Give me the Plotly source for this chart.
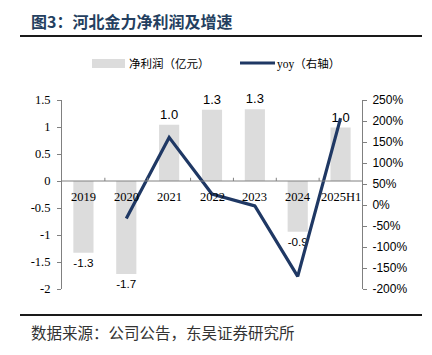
import plotly.graph_objects as go

categories = ["2019", "2020", "2021", "2022", "2023", "2024", "2025H1"]
net_profit = [-1.33, -1.72, 1.04, 1.32, 1.33, -0.94, 0.99]
profit_labels = ["-1.3", "-1.7", "1.0", "1.3", "1.3", "-0.9", "1.0"]
yoy_cats = ["2020", "2021", "2022", "2023", "2024", "2025H1"]
yoy = [-32, 161, 26, -2, -170, 207]
left_ticks = [-2, -1.5, -1, -0.5, 0, 0.5, 1, 1.5]
left_tick_text = ["-2", "-1.5", "-1", "-0.5", "0", "0.5", "1", "1.5"]
right_ticks = [-200, -150, -100, -50, 0, 50, 100, 150, 200, 250]
right_tick_text = [f"{v}%" for v in right_ticks]

W, H = 432, 355
L, R, T, B = 62, 362, 100, 289
BAR = "#DCDCDC"
LINE = "#1F3864"
SERIF = "Liberation Serif, Times New Roman, serif"
SANS = "Liberation Sans, Arial, sans-serif"
CJK = "Noto Sans CJK SC, sans-serif"


def px(x):
    return (x - L) / (R - L)


def py(y):
    return (B - y) / (B - T)


fig = go.Figure()
fig.add_trace(go.Bar(
    x=categories, y=net_profit, name="净利润（亿元）",
    marker=dict(color=BAR, line=dict(width=0)), width=0.47,
    text=profit_labels, textposition="outside",
    textfont=dict(family=SANS, size=13, color="#000000"),
    cliponaxis=False, yaxis="y", hoverinfo="skip",
))
fig.add_trace(go.Scatter(
    x=yoy_cats, y=yoy, name="yoy（右轴）", mode="lines",
    line=dict(color=LINE, width=3.2), yaxis="y2", cliponaxis=False,
    hoverinfo="skip",
))

shapes = []
annotations = []
# zero axis line
shapes.append(dict(type="line", xref="paper", yref="y", x0=0, x1=1, y0=0, y1=0,
                   line=dict(color="#808080", width=1)))
# tick marks between categories
for i in range(len(categories) - 1):
    shapes.append(dict(type="line", xref="x", yref="y", x0=i + 0.5, x1=i + 0.5,
                       y0=0, y1=0.06, line=dict(color="#808080", width=1)))
# category labels
for i, c in enumerate(categories):
    annotations.append(dict(x=i, y=0, xref="x", yref="y", text=c, showarrow=False,
                            yanchor="top", yshift=-7,
                            font=dict(family=SERIF, size=12.5, color="#000000")))

# top and bottom rules
shapes.append(dict(type="line", xref="paper", yref="paper", x0=px(20), x1=px(422),
                   y0=py(36), y1=py(36), line=dict(color="#1a1a1a", width=2)))
shapes.append(dict(type="line", xref="paper", yref="paper", x0=px(20), x1=px(422),
                   y0=py(315), y1=py(315), line=dict(color="#1a1a1a", width=2)))

# title
annotations.append(dict(x=px(29), y=py(21), xref="paper", yref="paper",
                        text="<b>图3：河北金力净利润及增速</b>", showarrow=False,
                        xanchor="left", yanchor="middle",
                        font=dict(family=CJK, size=16, color="#243F60")))
# footer
annotations.append(dict(x=px(29), y=py(332), xref="paper", yref="paper",
                        text="数据来源：公司公告，东吴证券研究所", showarrow=False,
                        xanchor="left", yanchor="middle",
                        font=dict(family=CJK, size=15.5, color="#333333")))

# legend (manual)
shapes.append(dict(type="rect", xref="paper", yref="paper", x0=px(92), x1=px(125),
                   y0=py(59), y1=py(68), fillcolor=BAR, line=dict(width=0)))
annotations.append(dict(x=px(127), y=py(63), xref="paper", yref="paper",
                        text="净利润（亿元）", showarrow=False, xanchor="left",
                        yanchor="middle", font=dict(family=CJK, size=11.5, color="#000000")))
shapes.append(dict(type="line", xref="paper", yref="paper", x0=px(240), x1=px(275),
                   y0=py(63), y1=py(63), line=dict(color=LINE, width=3)))
annotations.append(dict(x=px(275), y=py(63), xref="paper", yref="paper",
                        text="<span style='font-family:Liberation Serif'>yoy</span>（右轴）",
                        showarrow=False, xanchor="left", yanchor="middle",
                        font=dict(family=CJK, size=11.5, color="#000000")))

fig.update_layout(
    width=W, height=H,
    margin=dict(l=L, r=W - R, t=T, b=H - B, pad=0),
    paper_bgcolor="#FFFFFF", plot_bgcolor="#FFFFFF",
    showlegend=False, bargap=0.5, hovermode=False,
    xaxis=dict(type="category", categoryorder="array", categoryarray=categories,
               range=[-0.5, len(categories) - 0.5], showticklabels=False,
               showgrid=False, zeroline=False, showline=False, ticks=""),
    yaxis=dict(range=[-2, 1.5], tickvals=left_ticks, ticktext=left_tick_text,
               showgrid=False, zeroline=False, showline=True, linecolor="#808080",
               linewidth=1, ticks="outside", ticklen=4, tickcolor="#808080",
               ticklabelstandoff=4,
               tickfont=dict(family=SERIF, size=12.5, color="#000000")),
    yaxis2=dict(range=[-200, 250], tickvals=right_ticks, ticktext=right_tick_text,
                overlaying="y", side="right", anchor="x",
                showgrid=False, zeroline=False, showline=True, linecolor="#808080",
                linewidth=1, ticks="outside", ticklen=4, tickcolor="#808080",
                ticklabelstandoff=3,
                tickfont=dict(family=SANS, size=12, color="#000000")),
    shapes=shapes, annotations=annotations,
)

fig.write_html("out.html", config={"displayModeBar": False},
               post_script="document.body.style.margin='0';document.body.style.padding='0';")
